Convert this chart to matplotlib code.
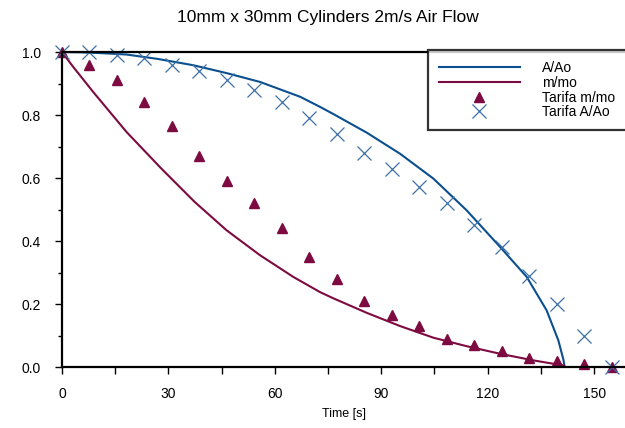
import numpy as np
import matplotlib
matplotlib.use("Agg")
import matplotlib.pyplot as plt
from matplotlib.ticker import MultipleLocator, FormatStrFormatter

plt.rcParams["font.family"] = ["Liberation Sans", "DejaVu Sans"]

BLUE = "#0b4f8e"
MAROON = "#7d0a40"
XBLUE = "#3f70a8"

# model curves
t_area = [0, 5, 10, 18.2, 27, 37, 46.4, 55.8, 67.1, 72.7, 76.5, 85.9, 95.3, 104.7,
          114.1, 123.5, 131, 136.6, 139.9, 141.3, 141.7]
area = [1.0, 0.999, 0.997, 0.992, 0.978, 0.958, 0.933, 0.905, 0.858, 0.826, 0.803, 0.744,
        0.677, 0.598, 0.497, 0.381, 0.286, 0.18, 0.085, 0.025, 0.0]
t_mass = [0, 3, 8.8, 18.2, 28.0, 37.4, 46.4, 55.8, 65.2, 72.7, 76.5, 85.9, 95.3, 104.7,
          114.1, 123.5, 132.9, 141.3, 141.7]
mass = [1.0, 0.955, 0.873, 0.746, 0.630, 0.524, 0.434, 0.355, 0.286, 0.238, 0.218, 0.172,
        0.130, 0.093, 0.066, 0.042, 0.021, 0.005, 0.0]

# Tarifa measurements
t_tar = [0, 7.75, 15.5, 23.25, 31, 38.75, 46.5, 54.25, 62, 69.75, 77.5, 85.25, 93,
         100.75, 108.5, 116.25, 124, 131.75, 139.5, 147.25, 155]
tar_mass = [1.0, 0.96, 0.91, 0.84, 0.765, 0.67, 0.59, 0.52, 0.44, 0.35, 0.28, 0.21, 0.165,
            0.13, 0.09, 0.07, 0.05, 0.03, 0.02, 0.01, 0.0]
tar_area = [1.0, 1.0, 0.99, 0.98, 0.96, 0.94, 0.91, 0.88, 0.84, 0.79, 0.74, 0.68, 0.63,
            0.57, 0.52, 0.45, 0.38, 0.29, 0.20, 0.10, 0.0]

fig = plt.figure(figsize=(6.25, 4.28), dpi=100)
ax = fig.add_axes([0.0992, 0.1425, 0.9008, 0.736])

ax.plot(t_area, area, "-", color=BLUE, lw=1.5, label="A/Ao")
ax.plot(t_mass, mass, "-", color=MAROON, lw=1.5, label="m/mo")
ax.plot(t_tar, tar_mass, "^", color=MAROON, ms=7, ls="none", label="Tarifa m/mo", clip_on=False)
ax.plot(t_tar, tar_area, "x", color=XBLUE, ms=10, mew=0.9, ls="none", label="Tarifa A/Ao", clip_on=False)

ax.set_xlim(0, 158.7)
ax.set_ylim(0, 1.0)
ax.xaxis.set_major_locator(MultipleLocator(30))
ax.xaxis.set_minor_locator(MultipleLocator(15))
ax.yaxis.set_major_locator(MultipleLocator(0.2))
ax.yaxis.set_minor_locator(MultipleLocator(0.1))
ax.yaxis.set_major_formatter(FormatStrFormatter("%.1f"))
ax.tick_params(axis="x", which="both", direction="out", length=5, width=1, pad=9.7, labelsize=10)
ax.tick_params(axis="y", which="major", direction="out", length=5, width=1, pad=10, labelsize=10)
ax.tick_params(axis="y", which="minor", direction="out", length=3, width=1)

for s in ["left", "bottom", "top"]:
    ax.spines[s].set_linewidth(1.6)
ax.spines["right"].set_visible(False)

ax.set_xlabel("Time [s]", fontsize=9, labelpad=5)
fig.text(0.525, 0.96, "10mm x 30mm Cylinders 2m/s Air Flow", fontsize=12.5,
         ha="center", va="center")

leg = ax.legend(loc="upper left", bbox_to_anchor=(0.650, 0.3, 0.377, 0.706), mode="expand",
                fontsize=10, frameon=True, fancybox=False, handlelength=5.8, handletextpad=1.6,
                labelspacing=0.05, borderpad=0.8, borderaxespad=0)
leg.get_frame().set_edgecolor("black")
leg.get_frame().set_linewidth(1.6)

fig.savefig("out.png", dpi=100)
